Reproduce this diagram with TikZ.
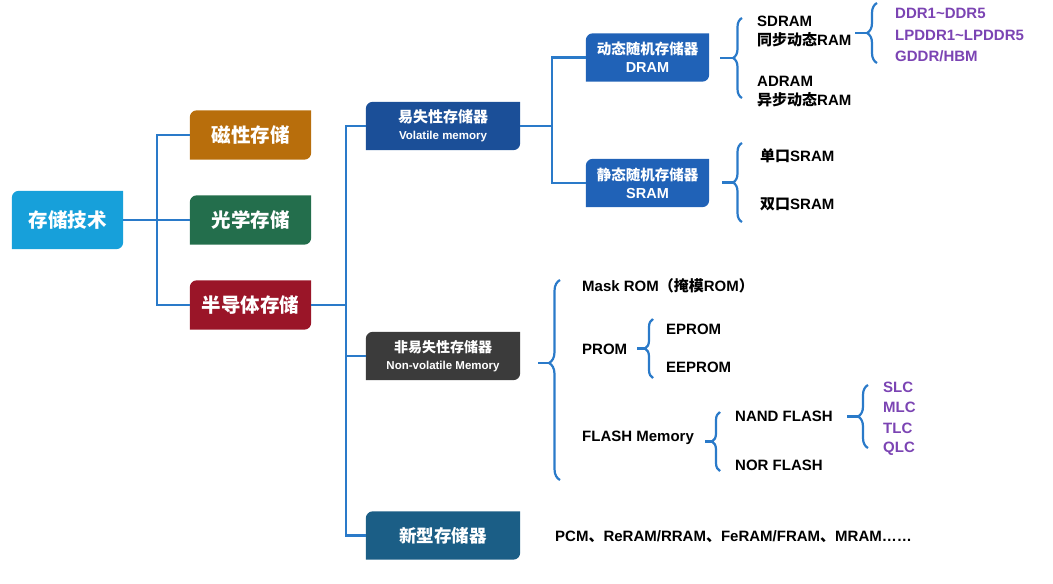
\documentclass[tikz,border=0pt]{standalone}
\usepackage{fontspec}
\setmainfont{Liberation Sans}
\newfontfamily\cjk{Noto Sans CJK SC}
\usetikzlibrary{backgrounds}
\usetikzlibrary{decorations.pathreplacing}
\definecolor{rootblue}{HTML}{17A0DA}
\definecolor{magbrown}{HTML}{B86E0C}
\definecolor{optgreen}{HTML}{236E4C}
\definecolor{semired}{HTML}{9A1528}
\definecolor{volblue}{HTML}{1B4F98}
\definecolor{ramblue}{HTML}{2062B7}
\definecolor{nvgray}{HTML}{3B3B3B}
\definecolor{newteal}{HTML}{1B5E86}
\definecolor{linkblue}{HTML}{2A7AC9}
\definecolor{kindpurple}{HTML}{7B44B3}
\tikzstyle{link} = [draw=linkblue, line width=2.4pt]
\tikzstyle{curly} = [draw=linkblue, line width=2.2pt, decorate]
\tikzstyle{bracestub} = [draw=linkblue, line width=2.2pt]
\tikzstyle{box} = [rectangle, text=white, align=center, inner sep=0pt]
\tikzstyle{tier1} = [box, minimum width=121pt, minimum height=49pt, font=\fontsize{19.5}{22}\selectfont\bfseries]
\tikzstyle{tier2} = [box, minimum width=154pt, minimum height=48pt, font=\fontsize{15}{17}\selectfont\bfseries]
\tikzstyle{tier3} = [box, minimum width=123pt, minimum height=48pt, font=\fontsize{14.5}{18}\selectfont\bfseries]
\tikzstyle{leaf} = [anchor=west, inner sep=0pt, align=left, font=\fontsize{15}{19}\selectfont\bfseries]
\tikzstyle{kind} = [leaf, text=kindpurple]
\newcommand{\eng}{\fontsize{11.5}{14}\selectfont}

\begin{document}
\begin{tikzpicture}[x=1pt, y=-1pt]
		\useasboundingbox (0,0) rectangle (1053,584);
		
		\node [tier1, minimum width=111pt, minimum height=58pt] (root) at (67.5,220) {\cjk 存储技术};
		\node [tier1] (mag) at (250.5,135) {\cjk 磁性存储};
		\node [tier1] (opt) at (250.5,220) {\cjk 光学存储};
		\node [tier1] (semi) at (250.5,305) {\cjk 半导体存储};
		
		\node [tier2] (vol) at (443,126) {{\cjk 易失性存储器}\\{\eng Volatile memory}};
		\node [tier2, font=\fontsize{14}{17}\selectfont\bfseries] (nvol) at (443,356) {{\cjk 非易失性存储器}\\{\eng Non-volatile Memory}};
		\node [tier2, font=\fontsize{17.5}{20}\selectfont\bfseries] (emerging) at (443,535.5) {\cjk 新型存储器};
		
		\node [tier3] (dram) at (647.5,57.5) {{\cjk 动态随机存储器}\\DRAM};
		\node [tier3] (sram) at (647.5,183) {{\cjk 静态随机存储器}\\SRAM};
		
		\begin{scope}[on background layer]
			\foreach \n/\c in {root/rootblue, mag/magbrown, opt/optgreen, semi/semired, vol/volblue, nvol/nvgray, emerging/newteal, dram/ramblue, sram/ramblue}
				\fill [\c] (\n.south west) [rounded corners=7pt] -- (\n.north west) [sharp corners] -- (\n.north east) [rounded corners=7pt] -- (\n.south east) [sharp corners] -- cycle;
		\end{scope}
		
		\coordinate (j1) at (157,220);
		\coordinate (j2) at (346,305);
		\coordinate (j3) at (552,126);
		
		\path [link] (root.east) -- (opt.west);
		\path [link] (mag.west) -| (j1) |- (semi.west);
		\path [link] (semi.east) -- (j2);
		\path [link] (vol.west) -| (j2) |- (emerging.west);
		\path [link] (nvol.west) -- (nvol.west -| j2);
		\path [link] (vol.east) -- (j3);
		\path [link] (dram.west) -| (j3) |- (sram.west);
		
		\node [leaf] (sd) at (757,31.5) {SDRAM\\{\cjk 同步动态}RAM};
		\node [leaf] (ad) at (757,92) {ADRAM\\{\cjk 异步动态}RAM};
		\node [leaf] (sport) at (760,156) {{\cjk 单口}SRAM};
		\node [leaf] (dport) at (760,204) {{\cjk 双口}SRAM};
		
		\node [kind] (ddr) at (895,13) {DDR1\textasciitilde DDR5};
		\node [kind] (lpddr) at (895,35) {LPDDR1\textasciitilde LPDDR5};
		\node [kind] (gddr) at (895,56) {GDDR/HBM};
		
		\node [leaf] (mask) at (582,286) {Mask ROM{\cjk （掩模}ROM{\cjk ）}};
		\node [leaf] (prom) at (582,349) {PROM};
		\node [leaf] (eprom) at (666,329) {EPROM};
		\node [leaf] (eeprom) at (666,367) {EEPROM};
		\node [leaf] (flash) at (582,438) {FLASH Memory};
		\node [leaf] (nand) at (735,416) {NAND FLASH};
		\node [leaf] (nor) at (735,465) {NOR FLASH};
		
		\node [kind] (slc) at (883,387) {SLC};
		\node [kind] (mlc) at (883,407.5) {MLC};
		\node [kind] (tlc) at (883,428) {TLC};
		\node [kind] (qlc) at (883,448.5) {QLC};
		
		\node [leaf] (others) at (555,537) {PCM{\cjk 、}ReRAM/RRAM{\cjk 、}FeRAM/FRAM{\cjk 、}MRAM……};
		
		\foreach \bx/\ya/\yb/\amp/\asp/\stub in {742/18/98/9/0.5/13, 877/3/63/10/0.5/12, 742/143/222/9/0.5/11, 560/280/480/11/0.585/11, 653/319/378/8/0.5/8, 720/412/471/8/0.5/7, 868/385/448/10/0.5/11}
		{
			\draw [curly, decoration={brace, amplitude=\amp pt, aspect=\asp}] (\bx,\yb) -- (\bx,\ya);
			\draw [bracestub] ({\bx-\amp},{\yb+\asp*(\ya-\yb)}) -- ++(-\stub,0);
		}
		\end{tikzpicture}
\end{document}
